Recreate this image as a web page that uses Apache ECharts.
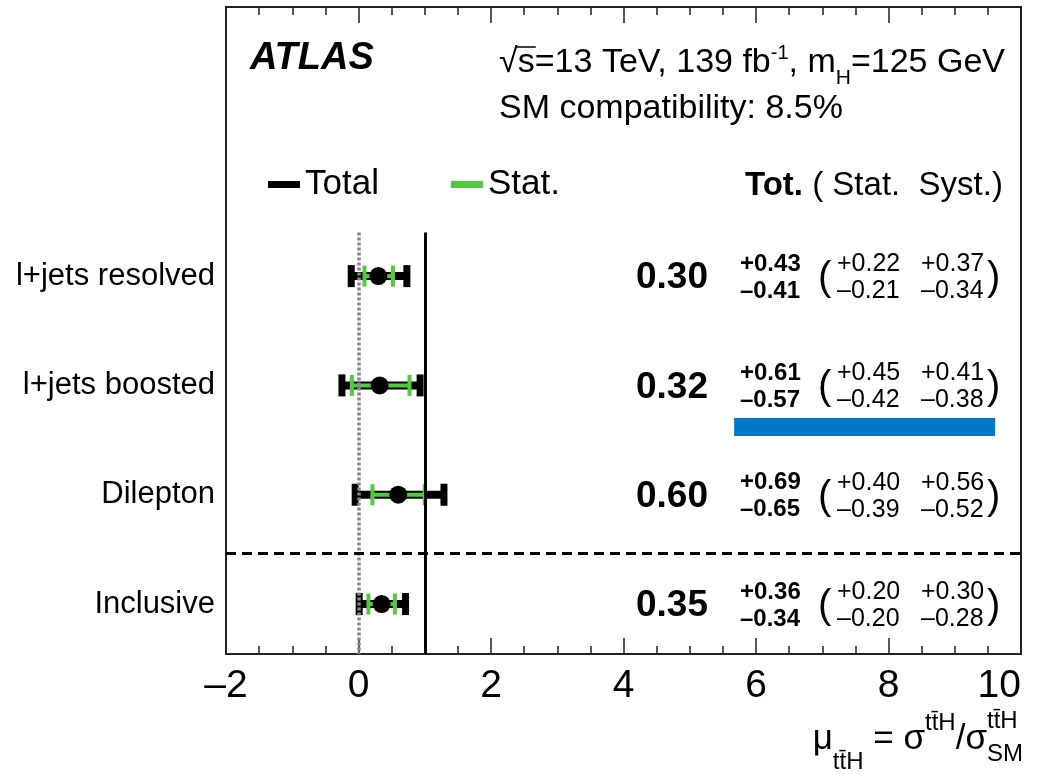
<!DOCTYPE html>
<html>
<head>
<meta charset="utf-8">
<script src="https://cdn.jsdelivr.net/npm/echarts@6/dist/echarts.min.js"></script>
<style>
  html, body { margin: 0; padding: 0; background: #fff; }
  #chart { width: 1046px; height: 775px; }
</style>
</head>
<body>
<div id="chart"></div>
<script>
// ttH signal strength per channel, with total / stat / syst uncertainties
const categories = ['l+jets resolved', 'l+jets boosted', 'Dilepton', 'Inclusive'];
const rowPos     = [3, 2, 1, 0];
const mu         = [0.30, 0.32, 0.60, 0.35];
const totUp      = [0.43, 0.61, 0.69, 0.36];
const totDn      = [0.41, 0.57, 0.65, 0.34];
const statUp     = [0.22, 0.45, 0.40, 0.20];
const statDn     = [0.21, 0.42, 0.39, 0.20];
const systUp     = [0.37, 0.41, 0.56, 0.30];
const systDn     = [0.34, 0.38, 0.52, 0.28];
const smRef      = 1;
const zeroRef    = 0;
const xTickRange = [-2, 10, 2];   // min, max, major step

const FONT = '"Liberation Sans", Arial, Helvetica, sans-serif';
const GREEN = '#4fcb3c';
const Y_MIN = -0.457, Y_MAX = 5.462;
const SEP_Y = 0.467;       // channel / inclusive separator
const REF_TOP = 3.40;      // top end of the reference lines

const chart = echarts.init(document.getElementById('chart'), null, { renderer: 'canvas' });

// text measuring for multi-piece labels (sub/superscripts)
const mctx = document.createElement('canvas').getContext('2d');
function fontStr(p) {
  return (p.style || 'normal') + ' ' + (p.weight || 'normal') + ' ' + p.size + 'px ' + FONT;
}
function textW(p) { mctx.font = fontStr(p); return mctx.measureText(p.t).width; }
// lay pieces out left to right on a common baseline; returns graphic elements
function run(x, baseline, pieces, extra) {
  const out = [];
  let cx = x;
  pieces.forEach(p => {
    const w = textW(p);
    out.push({
      type: 'text', x: cx + (p.dx || 0), y: baseline + (p.dy || 0) - 0.35 * p.size,
      style: {
        text: p.t, font: fontStr(p), fill: '#000',
        align: 'left', verticalAlign: 'middle'
      },
      silent: true
    });
    if (extra) extra(p, cx, w);
    if (!p.noAdvance) cx += w + (p.dx || 0);
  });
  return { els: out, end: cx };
}
function runWidth(pieces) {
  let w = 0;
  pieces.forEach(p => { if (!p.noAdvance) w += textW(p) + (p.dx || 0); });
  return w;
}

function buildGraphics() {
  const g = [];
  // ATLAS label
  g.push(...run(250, 72, [{ t: 'ATLAS', size: 38, weight: 'bold', style: 'italic' }]).els);

  // energy / luminosity / mass line
  let sBox = null;
  const line1 = [
    { t: '\u221A', size: 34 },
    { t: 's', size: 34, mark: 'bar' },
    { t: '=13 TeV, 139 fb', size: 34 },
    { t: '-1', size: 20, dy: -15 },
    { t: ', m', size: 34 },
    { t: 'H', size: 21, dy: 11 },
    { t: '=125 GeV', size: 34 }
  ];
  const r1 = run(1005 - runWidth(line1), 75, line1, (p, cx, w) => { if (p.mark === 'bar') sBox = [cx, w]; });
  g.push(...r1.els);
  if (sBox) {
    g.push({ type: 'line', silent: true,
      shape: { x1: sBox[0] - 1, y1: 47, x2: sBox[0] + sBox[1] + 1, y2: 47 },
      style: { stroke: '#000', lineWidth: 1.5 } });
  }
  // compatibility line
  g.push(...run(499, 121, [{ t: 'SM compatibility: 8.5%', size: 34 }]).els);

  // column header
  g.push(...run(745, 197, [
    { t: 'Tot.', size: 33, weight: 'bold' },
    { t: ' ( Stat.  Syst.)', size: 33 }
  ]).els);

  // x-axis title: mu_ttH = sigma^ttH / sigma^ttH_SM
  const tt = 't' + 't\u0304' + 'H';
  const title = [
    { t: '\u03BC', size: 35 },
    { t: tt, size: 24, dy: 19 },
    { t: ' = \u03C3', size: 35 },
    { t: tt, size: 24, dy: -20 },
    { t: '/\u03C3', size: 35 },
    { t: tt, size: 24, dy: -22, noAdvance: true },
    { t: 'SM', size: 24, dy: 11 }
  ];
  g.push(...run(1023 - runWidth(title), 752, title).els);
  return g;
}

const rows = categories.map((c, i) => i);

// error bar with end caps
function barItem(color, lineW, capW, capH) {
  return function (params, api) {
    const y = api.value(1);
    const a = api.coord([api.value(2), y]);
    const b = api.coord([api.value(3), y]);
    return {
      type: 'group',
      children: [
        { type: 'line', shape: { x1: a[0], y1: a[1], x2: b[0], y2: b[1] },
          style: { stroke: color, lineWidth: lineW } },
        { type: 'rect', shape: { x: a[0] - capW / 2, y: a[1] - capH / 2, width: capW, height: capH },
          style: { fill: color } },
        { type: 'rect', shape: { x: b[0] - capW / 2, y: b[1] - capH / 2, width: capW, height: capH },
          style: { fill: color } }
      ]
    };
  };
}

function fmtUp(v) { return '+' + v.toFixed(2); }
function fmtDn(v) { return '\u2013' + v.toFixed(2); }

function labelItem(params, api) {
  const i = params.dataIndex;
  const y = api.coord([0, api.value(1)])[1];
  const txt = (t, x, yy, size, weight, align) => ({
    type: 'text', x: x, y: yy,
    style: { text: t, fill: '#000', align: align || 'left', verticalAlign: 'middle',
      font: (weight || 'normal') + ' ' + size + 'px ' + FONT }
  });
  return {
    type: 'group',
    children: [
      txt(categories[i], 215, y, 31, 'normal', 'right'),
      txt(mu[i].toFixed(2), 708, y + 2, 37, 'bold', 'right'),
      txt(fmtUp(totUp[i]), 740, y - 12, 24, 'bold'),
      txt(fmtDn(totDn[i]), 740, y + 15, 24, 'bold'),
      txt('(', 818, y + 3, 40, 'normal'),
      txt(fmtUp(statUp[i]), 837, y - 12, 25),
      txt(fmtDn(statDn[i]), 837, y + 15, 25),
      txt(fmtUp(systUp[i]), 921, y - 12, 25),
      txt(fmtDn(systDn[i]), 921, y + 15, 25),
      txt(')', 987, y + 3, 40, 'normal')
    ]
  };
}

const axisCommon = {
  type: 'value',
  min: xTickRange[0], max: xTickRange[1], interval: xTickRange[2],
  splitLine: { show: false },
  axisLine: { show: true, onZero: false, lineStyle: { color: '#222', width: 2 } },
  axisTick: { show: true, inside: true, length: 16, lineStyle: { color: '#222', width: 1.5 } },
  minorTick: { show: true, splitNumber: 4, length: 8, lineStyle: { color: '#222', width: 1.5 } },
  minorSplitLine: { show: false }
};

const option = {
  animation: false,
  backgroundColor: '#fff',
  grid: { left: 226, right: 25, top: 7, bottom: 121, show: true, borderColor: '#222', borderWidth: 2 },
  legend: {
    left: 268, top: 167, padding: 0,
    itemWidth: 32, itemHeight: 7, itemGap: 72,
    selectedMode: false,
    textStyle: { fontFamily: FONT, fontSize: 35, color: '#000' },
    data: [
      { name: 'Total', icon: 'rect', itemStyle: { color: '#000' } },
      { name: 'Stat.', icon: 'rect', itemStyle: { color: GREEN } }
    ]
  },
  xAxis: [
    Object.assign({}, axisCommon, {
      position: 'bottom',
      axisLabel: {
        color: '#000', fontFamily: FONT, fontSize: 39, margin: 13,
        alignMaxLabel: 'right',
        formatter: v => (v < 0 ? '\u2013' + (-v) : String(v))
      }
    }),
    Object.assign({}, axisCommon, { position: 'top', axisLabel: { show: false } })
  ],
  yAxis: {
    type: 'value', min: Y_MIN, max: Y_MAX,
    axisLine: { show: false }, axisTick: { show: false },
    axisLabel: { show: false }, splitLine: { show: false }
  },
  graphic: buildGraphics(),
  series: [
    {
      name: 'refs', type: 'custom', silent: true, z: 1,
      renderItem: () => ({ type: 'group', children: [] }),
      data: [[0, 0]],
      markLine: {
        silent: true, symbol: 'none', label: { show: false },
        data: [
          [{ coord: [zeroRef, REF_TOP], lineStyle: { color: '#888', width: 3.5, type: [3, 2] } },
           { coord: [zeroRef, Y_MIN] }],
          [{ coord: [smRef, REF_TOP], lineStyle: { color: '#000', width: 3, type: 'solid' } },
           { coord: [smRef, Y_MIN] }],
          [{ coord: [xTickRange[0], SEP_Y], lineStyle: { color: '#000', width: 3, type: [10, 6] } },
           { coord: [xTickRange[1], SEP_Y] }]
        ]
      },
      markArea: {
        silent: true,
        data: [[
          { coord: [5.67, 1.538], itemStyle: { color: '#0077c8', opacity: 1 } },
          { coord: [9.61, 1.702] }
        ]]
      }
    },
    {
      name: 'Total', type: 'custom', z: 3,
      itemStyle: { color: '#000' },
      renderItem: barItem('#000', 8, 7, 22),
      encode: { x: [0, 2, 3], y: 1 },
      data: rows.map(i => [mu[i], rowPos[i], mu[i] - totDn[i], mu[i] + totUp[i]])
    },
    {
      name: 'Stat.', type: 'custom', z: 4,
      itemStyle: { color: GREEN },
      renderItem: barItem(GREEN, 4, 4, 21),
      encode: { x: [0, 2, 3], y: 1 },
      data: rows.map(i => [mu[i], rowPos[i], mu[i] - statDn[i], mu[i] + statUp[i]])
    },
    {
      name: 'mu', type: 'scatter', z: 5, symbol: 'circle', symbolSize: 18,
      itemStyle: { color: '#000', opacity: 1 }, silent: true,
      data: rows.map(i => [mu[i], rowPos[i]])
    },
    {
      name: 'labels', type: 'custom', z: 6, silent: true,
      renderItem: labelItem,
      encode: { x: 0, y: 1 },
      data: rows.map(i => [0, rowPos[i]])
    }
  ]
};

chart.setOption(option);
</script>
</body>
</html>
